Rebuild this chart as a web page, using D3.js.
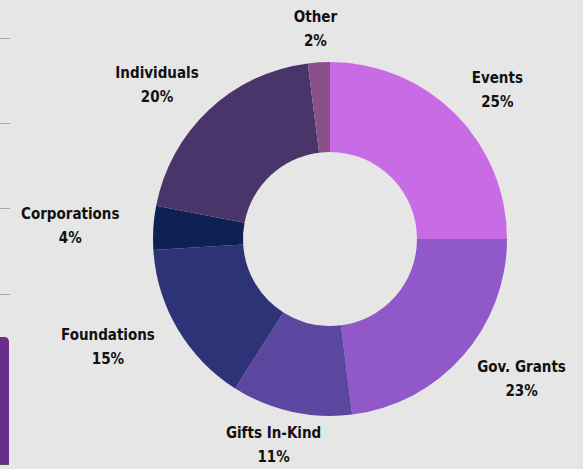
<!DOCTYPE html>
<html>
<head>
<meta charset="utf-8">
<script src="https://cdn.jsdelivr.net/npm/d3@7"></script>
<style>
  html, body { margin: 0; padding: 0; background: #e6e6e6; overflow: hidden; }
  #chart { width: 583px; height: 469px; }
  text { font-family: "DejaVu Sans Condensed", "DejaVu Sans", sans-serif; font-weight: bold; font-size: 15px; fill: #111; }
</style>
</head>
<body>
<div id="chart"></div>
<script>
var categories = ["Events", "Gov. Grants", "Gifts In-Kind", "Foundations", "Corporations", "Individuals", "Other"];
var shares = [25, 23, 11, 15, 4, 20, 2];
var colors = ["#c86ce6", "#9058c8", "#5b47a0", "#2e3377", "#0f2152", "#4a356b", "#8b4f8a"];

var width = 583, height = 469;
var cx = 330, cy = 239;
var outerR = 177, innerR = 87;
var labelR = 211;

var svg = d3.select("#chart").append("svg")
    .attr("width", width)
    .attr("height", height);

// leftover bits of the neighbouring slide panel
var panel = svg.append("g");
[38, 123, 208, 294].forEach(function(y) {
  panel.append("line")
      .attr("x1", 0).attr("x2", 10)
      .attr("y1", y + 0.5).attr("y2", y + 0.5)
      .attr("stroke", "#a9a9a9");
});
panel.append("path")
    .attr("d", "M-5,337 H4 Q9,337 9,342 V464 H-5 Z")
    .attr("fill", "#6a2d8c");
panel.append("line")
    .attr("x1", 0).attr("x2", 9)
    .attr("y1", 464.5).attr("y2", 464.5)
    .attr("stroke", "#555");

var data = categories.map(function(c, i) { return {name: c, value: shares[i], color: colors[i]}; });

var pie = d3.pie().sort(null).value(function(d) { return d.value; });
var arc = d3.arc().innerRadius(innerR).outerRadius(outerR);

var g = svg.append("g")
    .attr("transform", "translate(" + cx + "," + cy + ")");

var arcs = pie(data);

g.selectAll(".slice")
  .data(arcs)
  .enter().append("path")
    .attr("class", "slice")
    .attr("d", arc)
    .attr("fill", function(d) { return d.data.color; });

var labels = g.selectAll(".label")
  .data(arcs)
  .enter().append("text")
    .attr("class", "label")
    .attr("text-anchor", "middle");

labels.append("tspan")
    .attr("x", 0).attr("y", -12)
    .attr("dy", "0.35em")
    .text(function(d) { return d.data.name; });
labels.append("tspan")
    .attr("x", 0).attr("y", 12)
    .attr("dy", "0.35em")
    .text(function(d) { return d.data.value + "%"; });

labels.attr("transform", function(d) {
  var a = (d.startAngle + d.endAngle) / 2;
  var w = this.getBBox().width;
  var x = Math.sin(a) * (labelR + w / 2);
  var y = -Math.cos(a) * labelR;
  return "translate(" + x + "," + y + ")";
});
</script>
</body>
</html>
